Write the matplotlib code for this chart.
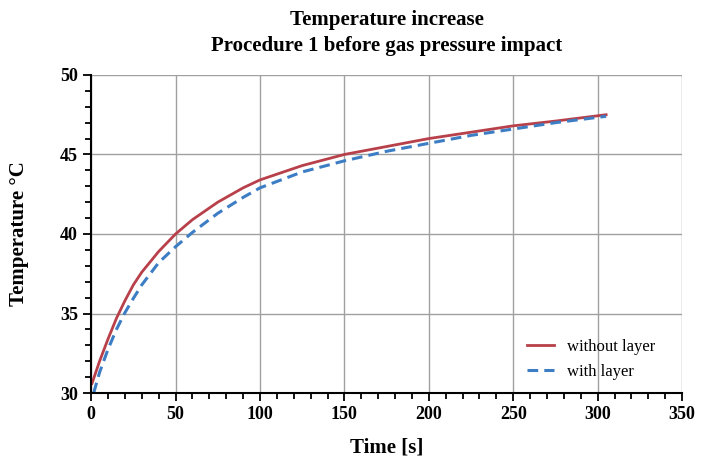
import matplotlib.pyplot as plt
from matplotlib.ticker import MultipleLocator

plt.rcParams['font.family'] = ['Liberation Serif', 'DejaVu Serif']

# time [s] and temperature [°C]
t_without = [0.5, 5, 10, 15, 20, 25, 30, 40, 50, 60, 75, 90, 100, 125, 150, 175, 200, 225, 250, 275, 305]
temp_without = [30.6, 32.0, 33.4, 34.7, 35.8, 36.8, 37.6, 38.9, 40.0, 40.9, 42.0, 42.9, 43.4, 44.3, 45.0, 45.5, 46.0, 46.4, 46.8, 47.1, 47.5]

t_with = [1.5, 5, 10, 15, 20, 25, 30, 40, 50, 60, 75, 90, 100, 125, 150, 175, 200, 225, 250, 275, 305]
temp_with = [30.0, 31.3, 32.75, 34.0, 35.05, 35.95, 36.8, 38.2, 39.2, 40.1, 41.3, 42.3, 42.9, 43.9, 44.6, 45.2, 45.7, 46.2, 46.6, 47.0, 47.4]

fig = plt.figure(figsize=(7.12, 4.57), dpi=100)
ax = fig.add_axes([0.128, 0.140, 0.830, 0.696])

ax.plot(t_without, temp_without, color='#b8404a', lw=2, label='without layer')
ax.plot(t_with, temp_with, color='#3d7dc4', lw=2.2, ls=(0, (3.5, 2)), label='with layer')

ax.set_xlim(0, 350)
ax.set_ylim(30, 50)
ax.xaxis.set_major_locator(MultipleLocator(50))
ax.xaxis.set_minor_locator(MultipleLocator(10))
ax.yaxis.set_major_locator(MultipleLocator(5))
ax.yaxis.set_minor_locator(MultipleLocator(1))
ax.grid(True, which='major', color='#a0a0a0', lw=1)
ax.set_axisbelow(True)
for s in ['top', 'right']:
    ax.spines[s].set_visible(False)
for s in ['left', 'bottom']:
    ax.spines[s].set_linewidth(1.5)
ax.tick_params(which='both', direction='out', width=1.3, labelsize=13)
ax.tick_params(which='major', length=6)
ax.tick_params(which='minor', length=4)
for lab in ax.get_xticklabels() + ax.get_yticklabels():
    lab.set_fontweight('bold')

ax.set_xlabel('Time [s]', fontsize=15, fontweight='bold', labelpad=10)
ax.set_ylabel('Temperature °C', fontsize=15, fontweight='bold', labelpad=22)
ax.set_title('Temperature increase\nProcedure 1 before gas pressure impact',
             fontsize=15, fontweight='bold', linespacing=1.45, pad=17)
ax.legend(loc='lower right', frameon=False, fontsize=12, handlelength=1.6,
          bbox_to_anchor=(0.98, -0.005))

fig.savefig('out.png', dpi=100)
